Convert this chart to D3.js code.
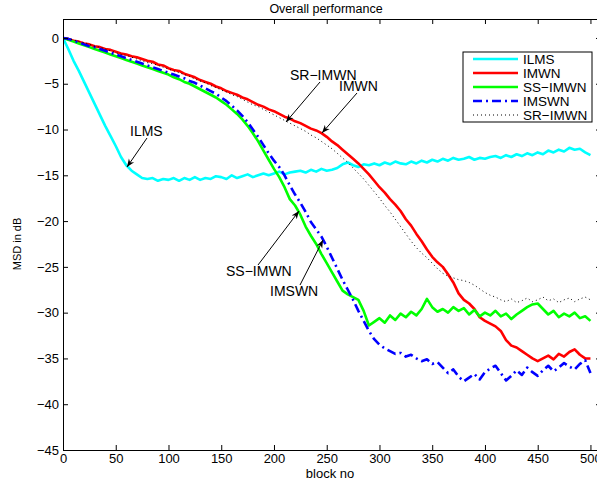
<!DOCTYPE html>
<html><head><meta charset="utf-8">
<script src="https://cdn.jsdelivr.net/npm/d3@7"></script>
<style>body{margin:0;background:#fff}svg{display:block}text{font-family:"Liberation Sans",Arial,sans-serif}</style>
</head><body><svg id="c" width="597" height="480"></svg>
<script>
const blocks = d3.range(0, 501, 5);
const xTicks = [0,50,100,150,200,250,300,350,400,450,500];
const yTicks = [0,-5,-10,-15,-20,-25,-30,-35,-40,-45];
const seriesNames = ["ILMS","IMWN","SS\u2212IMWN","IMSWN","SR\u2212IMWN"];
const ilms = [0,-1.2,-2.5,-3.6,-4.8,-6.0,-7.2,-8.4,-9.6,-10.7,-11.8,-13.0,-13.9,-14.5,-14.9,-15.3,-15.4,-15.3,-15.6,-15.4,-15.5,-15.3,-15.6,-15.3,-15.5,-15.2,-15.5,-15.3,-15.4,-15.1,-15.2,-15.4,-15.0,-15.3,-15.1,-14.9,-15.2,-15.0,-14.8,-15.0,-14.8,-14.6,-14.9,-14.7,-14.6,-14.5,-14.7,-14.4,-14.6,-14.3,-14.5,-14.4,-14.2,-13.8,-13.6,-13.9,-14.1,-13.8,-13.9,-13.7,-13.9,-13.6,-13.8,-13.5,-13.7,-13.8,-13.5,-13.7,-13.4,-13.6,-13.3,-13.5,-13.2,-13.4,-13.1,-13.3,-13.2,-13.0,-13.3,-13.1,-13.2,-13.0,-12.9,-13.1,-12.8,-13.0,-12.7,-12.9,-12.6,-12.8,-12.5,-12.7,-12.3,-12.5,-12.2,-12.4,-12.0,-12.2,-12.1,-12.5,-12.8];
const imwn = [0,-0.1,-0.3,-0.4,-0.6,-0.7,-0.9,-1.0,-1.2,-1.3,-1.5,-1.7,-1.8,-2.0,-2.1,-2.3,-2.5,-2.6,-2.9,-3.0,-3.3,-3.5,-3.6,-3.9,-4.1,-4.3,-4.6,-4.8,-5.0,-5.3,-5.5,-5.8,-6.0,-6.2,-6.5,-6.7,-7.0,-7.3,-7.5,-7.8,-8.0,-8.3,-8.6,-8.8,-9.1,-9.3,-9.6,-9.9,-10.1,-10.4,-10.8,-11.3,-11.7,-12.2,-12.7,-13.2,-13.7,-14.3,-14.9,-15.6,-16.3,-16.9,-17.6,-18.2,-18.9,-19.8,-20.5,-21.4,-22.2,-23.1,-23.9,-24.5,-25.0,-25.8,-26.7,-27.9,-28.6,-29.0,-29.6,-30.5,-30.9,-31.2,-31.5,-32.0,-33.0,-33.6,-33.8,-34.2,-34.6,-35.0,-35.3,-35.0,-34.7,-35.1,-34.5,-34.8,-34.3,-34.0,-34.6,-35.0,-35.0];
const ssimwn = [0,-0.2,-0.4,-0.6,-0.8,-1.0,-1.2,-1.4,-1.6,-1.8,-2.0,-2.2,-2.4,-2.6,-2.8,-3.0,-3.2,-3.4,-3.6,-3.8,-4.0,-4.3,-4.5,-4.8,-5.0,-5.3,-5.6,-5.9,-6.2,-6.5,-6.9,-7.3,-7.8,-8.3,-8.9,-9.6,-10.4,-11.3,-12.3,-13.3,-14.3,-15.2,-16.3,-17.6,-18.3,-19.3,-20.6,-21.6,-22.5,-23.6,-24.6,-25.6,-26.6,-27.6,-28.0,-28.3,-28.6,-29.8,-31.4,-31.0,-30.6,-31.1,-30.3,-30.8,-30.1,-30.5,-29.9,-30.3,-29.6,-28.5,-29.4,-29.9,-29.6,-30.0,-29.4,-29.8,-29.5,-30.2,-29.7,-30.4,-30.0,-30.3,-29.8,-30.4,-30.1,-30.7,-30.2,-29.8,-29.4,-29.1,-29.0,-29.6,-30.2,-29.8,-30.5,-30.1,-30.4,-30.0,-30.6,-30.4,-30.9];
const imswn = [0,-0.1,-0.3,-0.5,-0.7,-0.9,-1.0,-1.2,-1.4,-1.6,-1.8,-2.0,-2.2,-2.4,-2.6,-2.8,-3.0,-3.2,-3.4,-3.6,-3.8,-4.0,-4.2,-4.4,-4.7,-4.9,-5.2,-5.5,-5.8,-6.1,-6.5,-6.9,-7.4,-7.9,-8.5,-9.2,-10.0,-10.8,-11.7,-12.6,-13.4,-14.1,-15.0,-16.1,-17.1,-18.0,-19.0,-20.1,-20.9,-21.7,-22.8,-24.0,-25.2,-26.4,-27.5,-28.6,-29.8,-30.9,-32.0,-32.9,-33.5,-33.9,-34.2,-34.5,-34.4,-34.8,-34.6,-35.0,-35.3,-35.1,-35.6,-35.4,-36.0,-36.6,-36.2,-37.0,-37.5,-37.1,-36.7,-37.3,-36.5,-36.1,-35.8,-36.6,-37.4,-36.9,-36.3,-36.8,-36.0,-36.5,-36.9,-36.3,-35.8,-36.4,-36.0,-35.5,-35.9,-36.2,-35.6,-35.2,-36.6];
const srimwn = [0,-0.1,-0.2,-0.4,-0.5,-0.7,-0.9,-1.0,-1.2,-1.4,-1.6,-1.8,-1.9,-2.1,-2.3,-2.5,-2.7,-2.8,-3.0,-3.2,-3.4,-3.6,-3.8,-4.0,-4.2,-4.5,-4.7,-4.9,-5.2,-5.4,-5.7,-5.9,-6.2,-6.4,-6.7,-7.0,-7.3,-7.5,-7.8,-8.1,-8.4,-8.7,-9.0,-9.3,-9.6,-9.9,-10.2,-10.6,-10.9,-11.3,-11.7,-12.1,-12.6,-13.1,-13.6,-14.2,-14.8,-15.4,-16.1,-16.8,-17.5,-18.3,-19.0,-19.8,-20.6,-21.4,-22.2,-22.9,-23.5,-24.0,-24.6,-25.2,-25.7,-26.0,-26.2,-26.4,-26.5,-26.7,-27.0,-27.4,-27.8,-28.1,-28.3,-28.6,-28.8,-28.5,-28.9,-28.7,-28.4,-28.8,-28.6,-28.3,-28.7,-28.5,-28.9,-28.6,-28.4,-28.8,-28.5,-28.3,-28.6];

const svg = d3.select("#c");
const L = 63, R = 601, T = 19, B = 450;
const x = d3.scaleLinear().domain([0, 510]).range([L, R]);
const y = d3.scaleLinear().domain([-45, 2.07]).range([B, T]);

const series = [
  {name: seriesNames[0], v: ilms, color: "#00ffff", w: 2.6, dash: null},
  {name: seriesNames[1], v: imwn, color: "#ff0000", w: 2.6, dash: null},
  {name: seriesNames[2], v: ssimwn, color: "#00ff00", w: 2.6, dash: null},
  {name: seriesNames[3], v: imswn, color: "#0000ff", w: 2.6, dash: "9,4,2,4"},
  {name: seriesNames[4], v: srimwn, color: "#000000", w: 1, dash: "1,3"}
];

const defs = svg.append("defs");
defs.append("clipPath").attr("id","pc").append("rect").attr("x",L).attr("y",T).attr("width",R-L).attr("height",B-T);
defs.append("marker").attr("id","ah").attr("viewBox","0 0 10 10").attr("refX",10).attr("refY",5)
  .attr("markerWidth",8).attr("markerHeight",8).attr("markerUnits","userSpaceOnUse").attr("orient","auto")
  .append("path").attr("d","M0,1 L10,5 L0,9 L3,5 Z").attr("fill","#000");

const line = d3.line().x((d,i)=>x(blocks[i])).y(d=>y(d));
const g = svg.append("g").attr("clip-path","url(#pc)");
series.forEach(s => {
  g.append("path").attr("d", line(s.v)).attr("fill","none").attr("stroke", s.color)
   .attr("stroke-width", s.w).attr("stroke-dasharray", s.dash).attr("stroke-linejoin","round");
});

const ax = svg.append("g").attr("transform",`translate(0,${B})`)
  .call(d3.axisBottom(x).tickValues(xTicks).tickSizeInner(-5).tickSizeOuter(0).tickPadding(4).tickFormat(d3.format("d")));
const axT = svg.append("g").attr("transform",`translate(0,${T})`)
  .call(d3.axisTop(x).tickValues(xTicks).tickSizeInner(-5).tickSizeOuter(0).tickFormat(""));
const ay = svg.append("g").attr("transform",`translate(${L},0)`)
  .call(d3.axisLeft(y).tickValues(yTicks).tickSizeInner(-5).tickSizeOuter(0).tickPadding(4).tickFormat(d=>d<0?"\u2212"+(-d):String(d)));
const ayR = svg.append("g").attr("transform",`translate(${R},0)`)
  .call(d3.axisRight(y).tickValues(yTicks).tickSizeInner(-5).tickSizeOuter(0).tickFormat(""));
[ax,axT,ay,ayR].forEach(a=>{a.selectAll("text").attr("font-size",13).attr("fill","#000").attr("font-family","Liberation Sans, Arial, sans-serif");
  a.selectAll("line").attr("stroke","#000"); a.select(".domain").attr("stroke","#000");});

svg.append("text").attr("x",326).attr("y",13).attr("text-anchor","middle").attr("font-size",12.5).text("Overall performance");
svg.append("text").attr("x",330).attr("y",478).attr("text-anchor","middle").attr("font-size",13).text("block no");
svg.append("text").attr("transform","translate(21,244) rotate(-90)").attr("text-anchor","middle").attr("font-size",11).text("MSD in dB");

const lg = svg.append("g");
lg.append("rect").attr("x",463).attr("y",52).attr("width",129).attr("height",70).attr("fill","#fff").attr("stroke","#000").attr("stroke-width",1);
series.forEach((s,i)=>{
  const yy = 59 + i*14;
  lg.append("line").attr("x1",473).attr("x2",518).attr("y1",yy).attr("y2",yy).attr("stroke",s.color)
    .attr("stroke-width", s.w).attr("stroke-dasharray", s.dash);
  lg.append("text").attr("x",523).attr("y",yy+4.5).attr("font-size",13.5).text(s.name);
});

const ann = [
  {t:"SR\u2212IMWN", tx:290, ty:80, x1:320, y1:82, x2:286, y2:122},
  {t:"IMWN", tx:339, ty:91, x1:357, y1:93, x2:322, y2:133},
  {t:"ILMS", tx:130, ty:136, x1:147, y1:138, x2:127, y2:167},
  {t:"SS\u2212IMWN", tx:226, ty:276, x1:258, y1:265, x2:299, y2:211},
  {t:"IMSWN", tx:270, ty:296, x1:300, y1:285, x2:323, y2:240}
];
ann.forEach(a=>{
  svg.append("text").attr("x",a.tx).attr("y",a.ty).attr("font-size",14).text(a.t);
  svg.append("line").attr("x1",a.x1).attr("y1",a.y1).attr("x2",a.x2).attr("y2",a.y2)
    .attr("stroke","#000").attr("stroke-width",1).attr("marker-end","url(#ah)");
});
</script></body></html>
